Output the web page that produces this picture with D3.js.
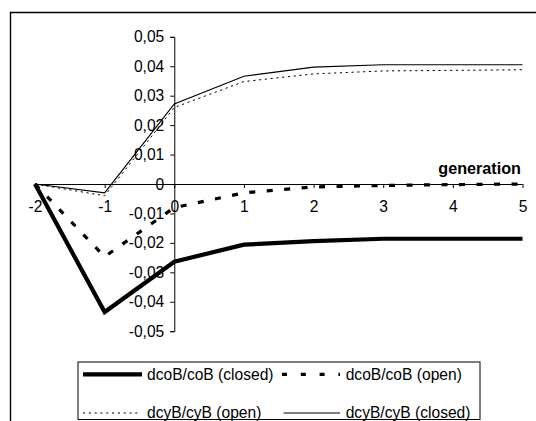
<!DOCTYPE html>
<html>
<head>
<meta charset="utf-8">
<script src="https://cdn.jsdelivr.net/npm/d3@7"></script>
<style>
  html, body { margin: 0; padding: 0; background: #fff; }
  svg { display: block; font-family: "Liberation Sans", Arial, sans-serif; }
</style>
</head>
<body>
<svg id="chart" width="536" height="421"></svg>
<script>
// Generations on the category axis
const generations = [-2, -1, 0, 1, 2, 3, 4, 5];

// Series values, one per generation
const coClosed = [0, -0.0435, -0.0264, -0.0206, -0.0194, -0.0186, -0.0186, -0.0186];
const coOpen   = [0, -0.0247, -0.0080, -0.0030, -0.0010, -0.0005, -0.0002, 0];
const cyOpen   = [0, -0.0040, 0.0260, 0.0348, 0.0374, 0.0384, 0.0386, 0.0388];
const cyClosed = [0, -0.0030, 0.0272, 0.0366, 0.0397, 0.0405, 0.0405, 0.0405];

// Value-axis tick labels
const yTicks = [0.05, 0.04, 0.03, 0.02, 0.01, 0, -0.01, -0.02, -0.03, -0.04, -0.05];
const yTickLabels = ["0,05", "0,04", "0,03", "0,02", "0,01", "0", "-0,01", "-0,02", "-0,03", "-0,04", "-0,05"];

const seriesNames = ["dcoB/coB (closed)", "dcoB/coB (open)", "dcyB/cyB (open)", "dcyB/cyB (closed)"];

const styles = [
  { w: 4.2, dash: null },
  { w: 3.2, dash: "6,11.5" },
  { w: 1, dash: "2.2,3.6" },
  { w: 1.2, dash: null }
];
const seriesValues = [coClosed, coOpen, cyOpen, cyClosed];

const svg = d3.select("#chart");
const FONT = 15.6;

// Outer chart frame (runs past the right and bottom edges)
svg.append("path")
  .attr("d", "M10.5,440 V12.5 H560")
  .attr("fill", "none").attr("stroke", "#000").attr("stroke-width", 1.4);

const x = d3.scalePoint().domain(generations).range([35, 522.5]);
const y = d3.scaleLinear().domain([-0.05, 0.05]).range([331.2, 36.8]);

// Value axis crossing at generation 0
const yAxis = d3.axisLeft(y)
  .tickValues(yTicks)
  .tickSize(4)
  .tickFormat((d, i) => yTickLabels[i]);
const gy = svg.append("g")
  .attr("transform", `translate(${x(0)},0)`)
  .call(yAxis);
gy.select(".domain").attr("stroke", "#000").attr("stroke-width", 1);
gy.selectAll(".tick line").attr("stroke", "#000");
gy.selectAll(".tick text")
  .attr("x", -10)
  .attr("font-size", FONT)
  .attr("font-family", "Liberation Sans, Arial, sans-serif")
  .attr("fill", "#000");

// Category axis at zero
const xAxis = d3.axisBottom(x).tickSize(4).tickSizeOuter(0).tickFormat(d => String(d));
const gx = svg.append("g")
  .attr("transform", `translate(0,${y(0)})`)
  .call(xAxis);
gx.select(".domain").attr("stroke", "#000").attr("stroke-width", 1)
  .attr("d", `M${x(-2)},0.5H${x(5)}`);
gx.selectAll(".tick line").attr("stroke", "#000");
gx.selectAll(".tick text")
  .attr("y", 17)
  .attr("font-size", FONT)
  .attr("font-family", "Liberation Sans, Arial, sans-serif")
  .attr("fill", "#000");

// Axis title
svg.append("text")
  .attr("x", 521).attr("y", 173.5)
  .attr("text-anchor", "end")
  .attr("font-size", 16.2)
  .attr("font-weight", "bold")
  .text("generation");

// Series lines
const line = d3.line().x((d, i) => x(generations[i])).y(d => y(d));
seriesValues.forEach((vals, k) => {
  svg.append("path")
    .datum(vals)
    .attr("d", line)
    .attr("fill", "none")
    .attr("stroke", "#000")
    .attr("stroke-width", styles[k].w)
    .attr("stroke-dasharray", styles[k].dash)
    .attr("stroke-linejoin", "miter");
});

// Legend
const lg = svg.append("g");
lg.append("rect")
  .attr("x", 78).attr("y", 362)
  .attr("width", 402).attr("height", 57.5)
  .attr("fill", "#fff").attr("stroke", "#000").attr("stroke-width", 1);

const legendItems = [
  { k: 0, x0: 83, x1: 142, tx: 147, cy: 374.4 },
  { k: 1, x0: 282, x1: 340, tx: 345.7, cy: 374.4 },
  { k: 2, x0: 83, x1: 139, tx: 147, cy: 413 },
  { k: 3, x0: 283.5, x1: 340, tx: 345.7, cy: 413 }
];
legendItems.forEach(it => {
  lg.append("line")
    .attr("x1", it.x0).attr("x2", it.x1)
    .attr("y1", it.cy).attr("y2", it.cy)
    .attr("stroke", "#000")
    .attr("stroke-width", styles[it.k].w)
    .attr("stroke-dasharray", it.k === 1 ? "5,13.8" : styles[it.k].dash);
  lg.append("text")
    .attr("x", it.tx).attr("y", it.cy)
    .attr("dy", "0.35em")
    .attr("font-size", FONT)
    .text(seriesNames[it.k]);
});
</script>
</body>
</html>
